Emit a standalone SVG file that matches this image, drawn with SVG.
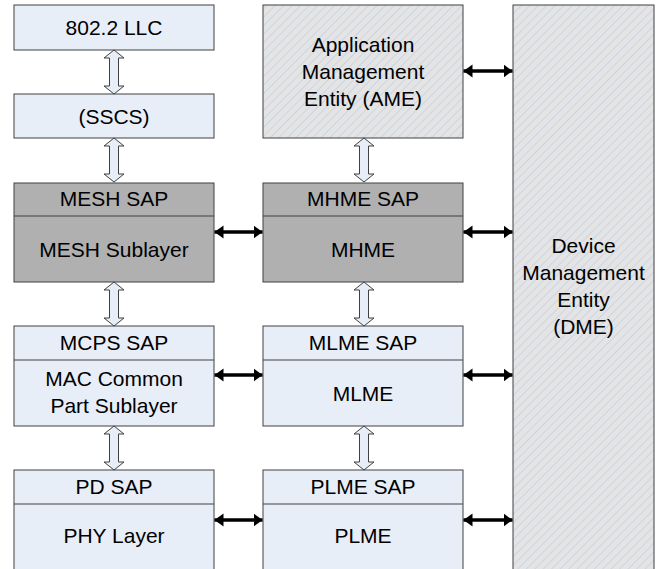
<svg xmlns="http://www.w3.org/2000/svg" width="664" height="569" viewBox="0 0 664 569">
<style>
.lt{fill:#e8eef8;stroke:#404040;stroke-width:1}
.gr{fill:#b0b0b0;stroke:#404040;stroke-width:1}
.ht{fill:url(#hatch);stroke:#404040;stroke-width:1}
.dv{stroke:#404040;stroke-width:1;fill:none}
text{font-family:"Liberation Sans",Arial,sans-serif;font-size:21px;fill:#000;text-anchor:middle}
.ba{stroke:#000;stroke-width:3.5;fill:none;marker-start:url(#ah);marker-end:url(#ah)}
.ho{fill:#e8eef8;stroke:#404040;stroke-width:1}
</style>
<defs>
<pattern id="hatch" patternUnits="userSpaceOnUse" width="6" height="6" patternTransform="rotate(45)">
<rect width="6" height="6" fill="#e4e4e4"/>
<line x1="0" y1="0" x2="0" y2="6" stroke="#bccbe2" stroke-width="1.2"/>
</pattern>
<marker id="ah" markerUnits="userSpaceOnUse" markerWidth="10" markerHeight="14" refX="9" refY="7" orient="auto-start-reverse">
<path d="M0,0.5 L9,7 L0,13.5 Z" fill="#000"/>
</marker>
<path id="hol" d="M0,0 L10,8 L4.5,8 L4.5,36 L10,36 L0,44 L-10,36 L-4.5,36 L-4.5,8 L-10,8 Z"/>
</defs>
<g id="llc"><rect class="lt" x="14" y="5" width="200" height="45"/><text x="114" y="35">802.2 LLC</text></g>
<g id="sscs"><rect class="lt" x="14" y="94" width="200" height="44"/><text x="114" y="124">(SSCS)</text></g>
<g id="mesh"><rect class="gr" x="14" y="183" width="200" height="99"/><line class="dv" x1="14" y1="216" x2="214" y2="216"/><text x="114" y="206">MESH SAP</text><text x="114" y="257">MESH Sublayer</text></g>
<g id="mcps"><rect class="lt" x="14" y="326" width="200" height="100"/><line class="dv" x1="14" y1="360" x2="214" y2="360"/><text x="114" y="350">MCPS SAP</text><text x="114" y="386">MAC Common</text><text x="114" y="413">Part Sublayer</text></g>
<g id="phy"><rect class="lt" x="14" y="470" width="200" height="110"/><line class="dv" x1="14" y1="504" x2="214" y2="504"/><text x="114" y="494">PD SAP</text><text x="114" y="543">PHY Layer</text></g>
<g id="ame"><rect class="ht" x="263" y="5" width="200" height="133"/><text x="363" y="52">Application</text><text x="363" y="79">Management</text><text x="363" y="106">Entity (AME)</text></g>
<g id="mhme"><rect class="gr" x="263" y="183" width="200" height="99"/><line class="dv" x1="263" y1="216" x2="463" y2="216"/><text x="363" y="206">MHME SAP</text><text x="363" y="257">MHME</text></g>
<g id="mlme"><rect class="lt" x="263" y="326" width="200" height="100"/><line class="dv" x1="263" y1="360" x2="463" y2="360"/><text x="363" y="350">MLME SAP</text><text x="363" y="401">MLME</text></g>
<g id="plme"><rect class="lt" x="263" y="470" width="200" height="110"/><line class="dv" x1="263" y1="504" x2="463" y2="504"/><text x="363" y="494">PLME SAP</text><text x="363" y="543">PLME</text></g>
<g id="dme"><rect class="ht" x="513" y="5" width="141" height="580"/><text x="583.5" y="253">Device</text><text x="583.5" y="280">Management</text><text x="583.5" y="307">Entity</text><text x="583.5" y="334">(DME)</text></g>
<g id="connectors">
<use href="#hol" class="ho" x="114" y="50"/>
<use href="#hol" class="ho" x="114" y="138"/>
<use href="#hol" class="ho" x="114" y="282"/>
<use href="#hol" class="ho" x="114" y="426"/>
<use href="#hol" class="ho" x="364" y="138"/>
<use href="#hol" class="ho" x="364" y="282"/>
<use href="#hol" class="ho" x="364" y="426"/>
<line class="ba" x1="214.5" y1="232" x2="262.5" y2="232"/>
<line class="ba" x1="214.5" y1="375" x2="262.5" y2="375"/>
<line class="ba" x1="214.5" y1="520" x2="262.5" y2="520"/>
<line class="ba" x1="463.5" y1="71" x2="512.5" y2="71"/>
<line class="ba" x1="463.5" y1="232" x2="512.5" y2="232"/>
<line class="ba" x1="463.5" y1="375" x2="512.5" y2="375"/>
<line class="ba" x1="463.5" y1="520" x2="512.5" y2="520"/>
</g>
</svg>
